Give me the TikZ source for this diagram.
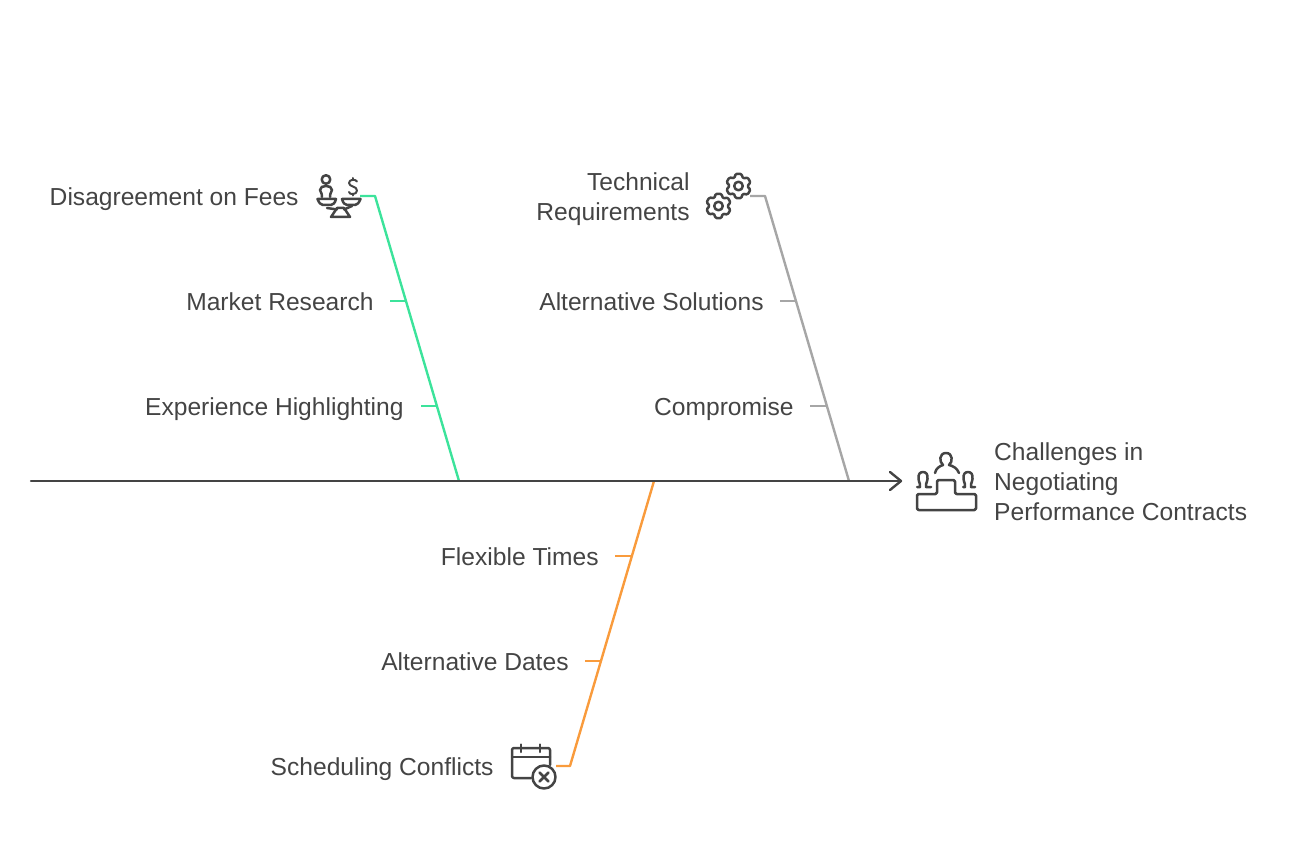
\documentclass[tikz,border=0pt]{standalone}
\usepackage{fontspec}
\setmainfont{Liberation Sans}
\definecolor{ink}{HTML}{444444}
\definecolor{greenb}{HTML}{3CE39B}
\definecolor{grayb}{HTML}{A6A6A6}
\definecolor{orangeb}{HTML}{F99B3C}
\tikzset{
  lab/.style={anchor=mid east,inner sep=0pt,xshift=0.8pt,yshift=-6.6pt,text=ink,font=\fontsize{24.6}{30}\selectfont,align=right},
  title/.style={anchor=mid west,inner sep=0pt,yshift=-6.6pt,text=ink,font=\fontsize{24.6}{30}\selectfont,align=left},
  spine/.style={draw=ink,line width=2.4pt,line cap=round,line join=round},
  branch/.style={line width=2.4pt,line join=round},
  icon/.style={draw=ink,line width=2.5pt,line cap=round,line join=round,fill=none},
}
\newcommand{\gearicon}[2]{%
  \begin{scope}[shift={(#1,#2)}]
    \draw[icon,rounded corners=1.2pt] (77:12.5) -- (103:12.5) -- (122:8.8) -- (138:12.5) -- (163:12.5) -- (182:8.8) -- (197:12.5) -- (223:12.5) -- (242:8.8) -- (257:12.5) -- (283:12.5) -- (302:8.8) -- (317:12.5) -- (343:12.5) -- (2:8.8) -- (17:12.5) -- (43:12.5) -- (62:8.8) -- cycle;
    \draw[icon] (0,0) circle (4.3pt);
  \end{scope}}
\begin{document}
\begin{tikzpicture}[x=1pt,y=-1pt]
\useasboundingbox (0,0) rectangle (1293,850);
% anchors
\coordinate (tail) at (31,481);
\coordinate (head) at (901,481);
\coordinate (gfoot) at (459,481);
\coordinate (gbend) at (375,196);
\coordinate (gstart) at (360,196);
\coordinate (gt1) at (390,301);
\coordinate (gt1e) at (407,301);
\coordinate (gt2) at (421,406);
\coordinate (gt2e) at (438,406);
\coordinate (sfoot) at (849,481);
\coordinate (sbend) at (765,196);
\coordinate (sstart) at (750,196);
\coordinate (st1) at (780,301);
\coordinate (st1e) at (797,301);
\coordinate (st2) at (810,406);
\coordinate (st2e) at (828,406);
\coordinate (ofoot) at (654,481);
\coordinate (obend) at (570,766);
\coordinate (ostart) at (556,766);
\coordinate (ot1) at (615,556);
\coordinate (ot1e) at (633,556);
\coordinate (ot2) at (585,661);
\coordinate (ot2e) at (602,661);
% connectors
\draw[branch,draw=greenb] (gstart) -- (gbend) -- (gfoot);
\draw[branch,draw=greenb] (gt1) -- (gt1e);
\draw[branch,draw=greenb] (gt2) -- (gt2e);
\draw[branch,draw=grayb] (sstart) -- (sbend) -- (sfoot);
\draw[branch,draw=grayb] (st1) -- (st1e);
\draw[branch,draw=grayb] (st2) -- (st2e);
\draw[branch,draw=orangeb] (ostart) -- (obend) -- (ofoot);
\draw[branch,draw=orangeb] (ot1) -- (ot1e);
\draw[branch,draw=orangeb] (ot2) -- (ot2e);
\draw[spine] (tail) -- (head);
\draw[spine] (890,472) -- (head) -- (890,490);
% labels
\node[lab] (fees) at (298,196) {Disagreement on Fees};
\node[lab] (market) at (373,301) {Market Research};
\node[lab] (exper) at (403,406) {Experience Highlighting};
\node[lab] (tech) at (689,211) {Technical\\Requirements};
\node[lab] (altsol) at (763,301) {Alternative Solutions};
\node[lab] (comp) at (793,406) {Compromise};
\node[lab] (flex) at (598,556) {Flexible Times};
\node[lab] (altd) at (568,661) {Alternative Dates};
\node[lab] (sched) at (493,766) {Scheduling Conflicts};
\node[title] (main) at (994,511) {Challenges in\\Negotiating\\Performance Contracts};
% scale icon
\draw[icon] (326,179.5) circle (4.3pt);
\draw[icon] (322,197) .. controls (322,192) and (320,192) .. (320,190) .. controls (320,187) and (323,186) .. (326,186) .. controls (329,186) and (332,187) .. (332,190) .. controls (332,192) and (330,192) .. (330,197);
\draw[icon] (317.5,199) -- (336,199) .. controls (335,203) and (333,205) .. (331,205) -- (323,205) .. controls (321,205) and (319,203) .. (317.5,199) -- cycle;
\draw[icon] (342,199) -- (360.5,199) .. controls (359,203) and (357,205) .. (355,205) -- (347,205) .. controls (345,205) and (343,203) .. (342,199) -- cycle;
\draw[icon] (327,208) -- (337,209.5);
\draw[icon] (344,209.5) -- (352,206);
\draw[icon] (337,208) -- (344,208) -- (350,217) -- (331,217) -- cycle;
\draw[icon,line width=2pt] (357,181.5) .. controls (356,179) and (349,179) .. (349,183) .. controls (349,187) and (357,186) .. (357,190.5) .. controls (357,195) and (349,195) .. (349,192);
\draw[icon,line width=2pt] (353,178) -- (353,180);
\draw[icon,line width=2pt] (353,194) -- (353,195.5);
% gears
\gearicon{738.5}{186}
\gearicon{718.5}{206}
% podium icon
\draw[icon,rounded corners=1.5pt] (917,494) -- (937,494) -- (937,480) -- (955,480) -- (955,494) -- (976,494) -- (976,510) -- (917,510) -- cycle;
\draw[icon] (935,473) .. controls (936,468) and (940,466) .. (943,465) .. controls (939,462) and (939,453) .. (946,453) .. controls (953,453) and (953,462) .. (949,465) .. controls (953,466) and (957,468) .. (959,473);
\draw[icon] (917,487) -- (920,487) .. controls (921,485) and (919,483) .. (918.5,479) .. controls (918,474) and (920,472) .. (923,472) .. controls (926,472) and (928,474) .. (927.5,479) .. controls (927,483) and (925,485) .. (926,487) -- (931,487);
\draw[icon] (963,487) -- (965,487) .. controls (966,485) and (964,483) .. (963.5,479) .. controls (963,474) and (965,472) .. (968,472) .. controls (971,472) and (973,474) .. (972.5,479) .. controls (972,483) and (970,485) .. (971,487) -- (975,487);
% calendar icon
\draw[icon,rounded corners=2pt] (550,765) -- (550,748) -- (512,748) -- (512,778) -- (531,778);
\draw[icon] (512,757) -- (550,757);
\draw[icon] (521,744.5) -- (521,752);
\draw[icon] (540,744.5) -- (540,752);
\draw[icon] (544,777) circle (11.5pt);
\draw[icon] (539.5,772.5) -- (548.5,781.5);
\draw[icon] (548.5,772.5) -- (539.5,781.5);
\end{tikzpicture}
\end{document}
